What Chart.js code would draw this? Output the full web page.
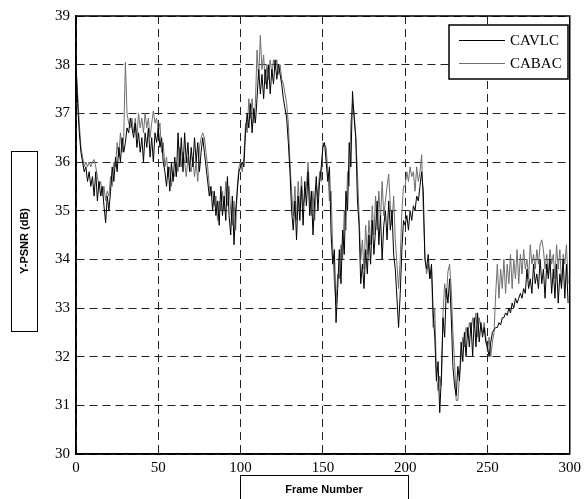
<!DOCTYPE html>
<html>
<head>
<meta charset="utf-8">
<script src="https://cdn.jsdelivr.net/npm/chart.js@4"></script>
<style>
  body { margin: 0; background: #fff; }
  canvas { display: block; }
</style>
</head>
<body>
<canvas id="chart" width="586" height="499"></canvas>
<script>
// Y-PSNR per frame (frames 0..299)
const cavlc = [
  38.0, 37.2, 36.6, 36.2, 36.0, 35.8, 35.9, 35.6, 35.8, 35.5,
  35.7, 35.3, 35.8, 35.2, 35.6, 35.3, 35.5, 35.1, 34.75, 35.3,
  35.0, 35.4, 35.9, 35.6, 36.1, 35.8, 36.3, 36.0, 36.5, 36.2,
  36.4, 36.7, 36.6, 36.9, 36.7, 36.5, 36.8, 36.3, 36.6, 36.2,
  36.5, 36.0, 36.6, 36.3, 36.7, 36.1, 36.5, 36.0, 36.6, 36.4,
  36.7, 36.3, 36.5, 36.0, 35.8, 35.5, 35.9, 35.4, 36.0, 35.6,
  36.1, 35.7, 36.6, 35.9, 36.5, 35.8, 36.6, 36.0, 36.4, 35.8,
  36.3, 35.9, 36.5, 36.0, 36.4, 35.8, 36.2, 36.5, 36.2, 35.9,
  35.6, 35.3, 35.5, 35.0, 35.4, 34.9, 35.2, 34.7, 35.5, 34.9,
  35.3, 34.8, 35.7, 34.9, 34.5, 35.3, 34.3, 35.0, 35.4, 35.8,
  35.9, 36.0, 35.9, 36.6, 37.0, 36.7, 37.2, 36.6, 37.1, 36.8,
  37.3, 37.9, 37.4, 37.8, 37.3, 37.9, 37.5, 38.0, 37.4, 37.9,
  37.6, 38.1, 37.7, 38.0, 37.8, 37.6, 37.3, 37.1, 36.9, 36.4,
  35.8, 35.0, 34.6, 35.2, 34.4, 35.3, 34.8, 35.5, 34.7, 35.6,
  35.1, 35.8, 34.9, 35.4, 34.5, 35.2, 35.7, 35.0, 35.6, 35.9,
  36.3, 36.4, 36.0, 35.6, 35.9, 34.5, 33.9, 34.2, 32.7, 33.4,
  34.2, 33.5, 34.6, 34.1, 35.4, 35.0, 36.4, 35.9, 37.45, 36.9,
  36.5, 35.2, 34.7, 33.5, 33.9, 33.4, 34.2, 33.7, 34.5, 33.9,
  34.8, 34.1, 34.6, 35.2, 34.3, 34.9, 34.0, 34.7, 35.0, 34.4,
  35.2, 34.6, 35.0, 34.1, 33.8, 33.2, 32.6, 33.3, 34.2, 34.8,
  34.7, 34.9, 34.6, 35.0, 34.8, 35.1, 35.0, 35.3, 35.2, 35.5,
  35.8, 35.4, 34.0, 33.8, 34.1, 33.6, 33.9, 32.9, 32.4, 31.5,
  31.9, 30.85, 31.6, 32.8, 32.4, 33.4, 33.1, 33.6, 32.8, 31.8,
  31.4, 31.2, 31.8, 31.5, 32.3, 31.9, 32.5, 32.0, 32.6, 32.2,
  32.7, 32.0, 32.8, 32.2, 32.9, 32.3, 32.7, 32.4, 32.6, 32.3,
  32.2, 32.0, 32.3, 32.5, 32.55, 32.6, 32.6, 32.7, 32.65, 32.8,
  32.8, 32.9, 32.85, 33.0, 32.9, 33.1, 33.0, 33.2, 33.1, 33.2,
  33.3, 33.2, 33.4, 33.3, 33.8, 33.4, 33.6, 33.3, 33.9, 33.5,
  33.7, 33.4, 34.0, 33.5, 33.8, 33.2, 33.9, 33.6, 34.0, 33.3,
  33.8, 33.2, 33.9, 33.1, 33.7, 33.4, 34.0, 33.2, 33.9, 33.1
];

const cabac = [
  38.0, 37.4, 36.8, 36.3, 36.1, 35.9, 36.0, 35.9, 36.0, 35.9,
  36.0, 36.05, 35.9, 35.7, 35.5, 35.6, 35.3, 35.5, 35.2, 35.4,
  35.3, 35.7, 35.5, 36.0, 35.9, 36.4, 36.1, 36.6, 36.2, 36.5,
  38.05, 37.0, 36.8, 36.7, 36.9, 36.6, 36.9, 36.5, 37.0, 36.7,
  36.9, 36.6, 37.0, 36.7, 36.9, 36.5, 36.8, 37.05, 36.8, 36.9,
  36.6, 36.8, 36.2, 36.4, 35.9, 36.1, 35.7, 35.9, 35.5, 35.8,
  35.7, 36.0, 35.8, 36.3, 35.9, 36.2, 36.0, 35.7, 36.1, 35.9,
  35.8, 36.1, 35.7, 36.0, 35.6, 36.3, 36.5, 36.6, 36.5, 36.2,
  35.9, 35.5, 35.3, 35.4, 35.1, 35.3, 34.8, 35.2, 35.0, 35.4,
  35.0, 35.6, 35.1, 35.5, 35.0, 34.7, 35.2, 34.6, 35.5, 35.9,
  36.0, 35.8, 36.1, 36.8, 36.6, 37.3, 36.9, 37.3, 36.8, 37.2,
  38.3, 37.7, 38.6, 37.9, 38.2, 37.6, 38.0, 37.7, 38.1, 37.8,
  38.1, 37.9, 38.1, 37.8, 38.0, 37.7, 37.6, 37.4, 37.2, 36.8,
  36.0, 35.4, 34.9, 35.5, 34.8, 35.6, 35.0, 35.7, 35.1, 35.3,
  35.5, 36.0, 35.3, 34.9, 35.4, 34.8, 35.5, 35.3, 35.8, 35.6,
  36.4, 36.35, 36.3, 35.8, 35.2, 35.4, 34.2, 33.5, 33.1, 33.7,
  33.6, 34.3, 34.0, 35.0, 34.6, 35.8, 35.5, 36.8, 37.2, 37.0,
  36.5, 35.8, 34.9, 34.0, 34.4, 33.8, 34.7, 34.1, 34.8, 34.3,
  35.1, 34.5, 35.3, 34.6, 35.4, 34.8, 35.6, 34.9, 35.2, 35.5,
  35.75, 35.1, 34.7, 35.3, 34.4, 33.9, 33.4, 34.0, 35.0, 35.5,
  35.5, 35.8, 35.6, 35.9, 35.7, 35.8, 35.4, 35.9, 35.6, 35.8,
  36.15, 35.0, 34.1, 33.7, 33.9, 33.6, 33.8, 32.6, 33.0, 31.6,
  31.3, 31.6, 31.4, 32.9, 33.5, 33.2, 33.75, 33.9, 33.4, 32.5,
  31.9, 31.1, 31.1, 31.6, 32.0, 32.4, 32.2, 32.6, 32.4, 32.7,
  32.5, 32.8, 32.6, 32.9, 32.4, 32.8, 32.6, 32.5, 32.7, 32.4,
  32.1, 32.4, 32.0, 32.3, 32.5, 33.3, 33.9, 33.2, 33.8, 33.4,
  34.0, 33.3, 33.9, 33.5, 34.1, 33.4, 34.0, 33.6, 34.2, 33.5,
  34.1, 33.7, 34.2, 33.8, 34.0, 33.6, 34.3, 33.9, 34.1, 33.8,
  34.2, 33.9, 34.3, 34.4, 34.2, 33.8, 34.1, 33.7, 34.2, 33.9,
  34.1, 33.6, 34.3, 33.8, 34.2, 33.5, 34.1, 33.9, 34.3, 33.5
];

const frames = cavlc.map((_, i) => i); // frame number = index
const seriesNames = ['CAVLC', 'CABAC'];
const seriesColors = ['#000000', '#6e6e6e'];
const xTicks = [0, 50, 100, 150, 200, 250, 300];
const yTicks = [30, 31, 32, 33, 34, 35, 36, 37, 38, 39];
const xTitle = 'Frame Number';
const yTitle = 'Y-PSNR (dB)';

const serif = "'Liberation Serif', 'Times New Roman', serif";
const sans = "'Liberation Sans', Arial, sans-serif";

// box round the plot, boxed legend and boxed axis titles
const decorations = {
    id: 'decorations',
    afterDraw(chart) {
        let ctx = chart.ctx;
        let a = chart.chartArea;
        ctx.save();

        // plot frame
        ctx.strokeStyle = '#000';
        ctx.lineWidth = 1.5;
        ctx.setLineDash([]);
        ctx.strokeRect(a.left, a.top, a.right - a.left, a.bottom - a.top);

        // legend
        let lx = 449, ly = 25, lw = 119, lh = 54;
        ctx.fillStyle = '#fff';
        ctx.fillRect(lx, ly, lw, lh);
        ctx.strokeRect(lx, ly, lw, lh);
        ctx.font = '15px ' + serif;
        ctx.textBaseline = 'middle';
        ctx.textAlign = 'left';
        seriesNames.forEach((name, i) => {
            let y = ly + 15.5 + i * 23;
            ctx.strokeStyle = seriesColors[i];
            ctx.lineWidth = 1;
            ctx.beginPath();
            ctx.moveTo(459, y);
            ctx.lineTo(505, y);
            ctx.stroke();
            ctx.fillStyle = '#000';
            ctx.fillText(name, 510, y + 1);
        });

        // y axis title box
        ctx.strokeStyle = '#000';
        ctx.lineWidth = 1;
        ctx.strokeRect(11.5, 151.5, 26, 180);
        ctx.font = 'bold 11px ' + sans;
        ctx.textAlign = 'center';
        ctx.save();
        ctx.translate(25, 241);
        ctx.rotate(-Math.PI / 2);
        ctx.fillText(yTitle, 0, 0);
        ctx.restore();

        // x axis title box
        ctx.strokeRect(240.5, 475.5, 168, 30);
        ctx.fillText(xTitle, 324, 490);

        ctx.restore();
    }
};

let ctx = document.getElementById('chart').getContext('2d');
new Chart(ctx, {
    type: 'line',
    data: {
        datasets: [
            {
                label: seriesNames[0],
                data: frames.map((f, i) => ({ x: f, y: cavlc[i] })),
                borderColor: seriesColors[0],
                borderWidth: 1,
                pointRadius: 0,
                fill: false
            },
            {
                label: seriesNames[1],
                data: frames.map((f, i) => ({ x: f, y: cabac[i] })),
                borderColor: seriesColors[1],
                borderWidth: 1,
                pointRadius: 0,
                fill: false
            }
        ]
    },
    options: {
        responsive: false,
        animation: false,
        layout: { padding: { top: 16, right: 12, left: 0, bottom: 0 } },
        plugins: {
            legend: { display: false },
            tooltip: { enabled: false }
        },
        scales: {
            x: {
                type: 'linear',
                min: 0,
                max: 300,
                afterFit: s => { s.height = 45; },
                afterBuildTicks: s => { s.ticks = xTicks.map(v => ({ value: v })); },
                ticks: {
                    padding: 5,
                    color: '#000',
                    font: { family: serif, size: 15 },
                    maxRotation: 0
                },
                grid: { color: '#222', lineWidth: 1, drawTicks: false },
                border: { display: true, color: '#000', width: 1.5, dash: [8, 5] }
            },
            y: {
                min: 30,
                max: 39,
                afterFit: s => { s.width = 76; },
                afterBuildTicks: s => { s.ticks = yTicks.map(v => ({ value: v })); },
                ticks: {
                    padding: 6,
                    color: '#000',
                    font: { family: serif, size: 15 }
                },
                grid: { color: '#222', lineWidth: 1, drawTicks: false },
                border: { display: true, color: '#000', width: 1.5, dash: [8, 5] }
            }
        }
    },
    plugins: [decorations]
});
</script>
</body>
</html>
